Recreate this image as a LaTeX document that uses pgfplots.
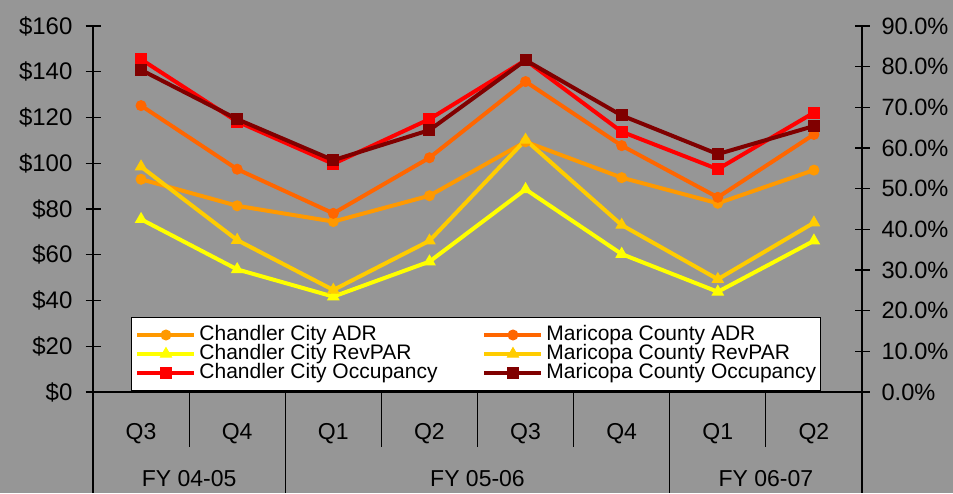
\documentclass[border=0pt]{standalone}
\usepackage{fontspec}
\setmainfont{Liberation Sans}
\usepackage{pgfplots}
\pgfplotsset{compat=1.18}
\definecolor{bg}{HTML}{969696}
\definecolor{cADR}{HTML}{FF9900}
\definecolor{mADR}{HTML}{FF6600}
\definecolor{cRev}{HTML}{FFFF00}
\definecolor{mRev}{HTML}{FFCC00}
\definecolor{cOcc}{HTML}{FF0000}
\definecolor{mOcc}{HTML}{800000}

\pgfplotsset{
  base/.style={
    at={(46.5pt,50.5pt)}, anchor=south west,
    scale only axis, width=384.5pt, height=183pt,
    xmin=-0.5, xmax=7.5,
    axis line style={black, line width=0.6pt, -},
    tick style={black, line width=0.6pt},
    tick align=center, major tick length=7.5pt,
    /pgf/number format/assume math mode=true,
    y tick label style={font=\fontsize{12}{13}\selectfont},
    clip=false,
  },
  ser/.style={line width=2pt, color=#1, mark options={solid, fill=#1, draw=#1, line width=0.5pt}},
  legend image code/.code={
    \draw[mark repeat=2, mark phase=2, #1] plot coordinates {(0pt,0pt) (14.25pt,0pt) (28.5pt,0pt)};
  },
}

\begin{document}
\begin{tikzpicture}
\fill[bg] (0,0) rectangle (476.5pt,246.5pt);

\begin{axis}[
  base,
  ymin=0, ymax=160,
  axis x line*=bottom, axis y line*=left,
  xtick={0,...,7},
  xticklabels={Q3,Q4,Q1,Q2,Q3,Q4,Q1,Q2},
  x tick style={draw=none},
  xticklabel style={font=\fontsize{11.5}{12}\selectfont, anchor=center, yshift=-17pt},
  ytick={0,20,...,160},
  yticklabel={\$\pgfmathprintnumber{\tick}},
  yticklabel style={xshift=-3pt},
  legend columns=2,
  legend cell align=left,
  legend style={
    at={(rel axis cs:0.0494,0.2049)}, anchor=north west,
    fill=white, draw=black, line width=0.5pt,
    inner xsep=2pt, inner ysep=4pt,
    column sep=0pt, row sep=0pt,
    /tikz/every odd column/.append style={column sep=1.5pt},
    font=\fontsize{10.5}{11}\selectfont,
    nodes={inner sep=0pt, text height=7.5pt, text depth=2pt, anchor=west},
  },
]
\addplot[ser=cADR, mark=*, mark size=2.5pt] coordinates {
  (0,93.0) (1,81.4) (2,74.5) (3,85.8) (4,109.4) (5,93.7) (6,82.5) (7,97.0)};
\addlegendentry{\makebox[141.5pt][l]{Chandler City ADR}}
\addplot[ser=mADR, mark=*, mark size=2.5pt] coordinates {
  (0,125.2) (1,97.4) (2,78.1) (3,102.4) (4,135.7) (5,107.7) (6,85.1) (7,112.6)};
\addlegendentry{Maricopa County ADR}
\addplot[ser=cRev, mark=triangle*, mark size=3.2pt] coordinates {
  (0,75.5) (1,53.6) (2,41.7) (3,57.0) (4,88.6) (5,60.3) (6,43.8) (7,66.1)};
\addlegendentry{\makebox[141.5pt][l]{Chandler City RevPAR}}
\addplot[ser=mRev, mark=triangle*, mark size=3.2pt] coordinates {
  (0,98.5) (1,66.4) (2,44.6) (3,66.1) (4,110.2) (5,73.0) (6,49.3) (7,74.0)};
\addlegendentry{Maricopa County RevPAR}
\addlegendimage{ser=cOcc, mark=square*, mark size=2.75pt}
\addlegendentry{\makebox[141.5pt][l]{Chandler City Occupancy}}
\addlegendimage{ser=mOcc, mark=square*, mark size=2.75pt}
\addlegendentry{Maricopa County Occupancy}

% category separators
\pgfplotsinvokeforeach{0.5,2.5,3.5,4.5,6.5}{
  \draw[black, line width=0.6pt] (axis cs:#1,0) -- ++(0pt,-27.5pt);
}
\pgfplotsinvokeforeach{-0.5,1.5,5.5,7.5}{
  \draw[black, line width=0.6pt] (axis cs:#1,0) -- ++(0pt,-50.5pt);
}
\node[font=\fontsize{11.5}{12}\selectfont, yshift=-43.5pt] at (axis cs:0.5,0) {FY 04-05};
\node[font=\fontsize{11.5}{12}\selectfont, yshift=-43.5pt] at (axis cs:3.5,0) {FY 05-06};
\node[font=\fontsize{11.5}{12}\selectfont, yshift=-43.5pt] at (axis cs:6.5,0) {FY 06-07};
\end{axis}

\begin{axis}[
  base,
  ymin=0, ymax=90,
  axis y line*=right, axis x line=none,
  ytick={0,10,...,90},
  yticklabel={\pgfmathprintnumber[fixed,fixed zerofill,precision=1]{\tick}\%},
  yticklabel style={xshift=2.5pt, font=\fontsize{11.8}{13}\selectfont},
]
\addplot[ser=cOcc, mark=square*, mark size=2.75pt] coordinates {
  (0,81.8) (1,66.5) (2,56.1) (3,67.1) (4,81.6) (5,64.0) (6,54.8) (7,68.7)};
\addplot[ser=mOcc, mark=square*, mark size=2.75pt] coordinates {
  (0,79.2) (1,67.1) (2,57.0) (3,64.4) (4,81.6) (5,68.0) (6,58.5) (7,65.4)};
\end{axis}

\pgfresetboundingbox
\useasboundingbox (0,0) rectangle (476.5pt,246.5pt);
\end{tikzpicture}
\end{document}
